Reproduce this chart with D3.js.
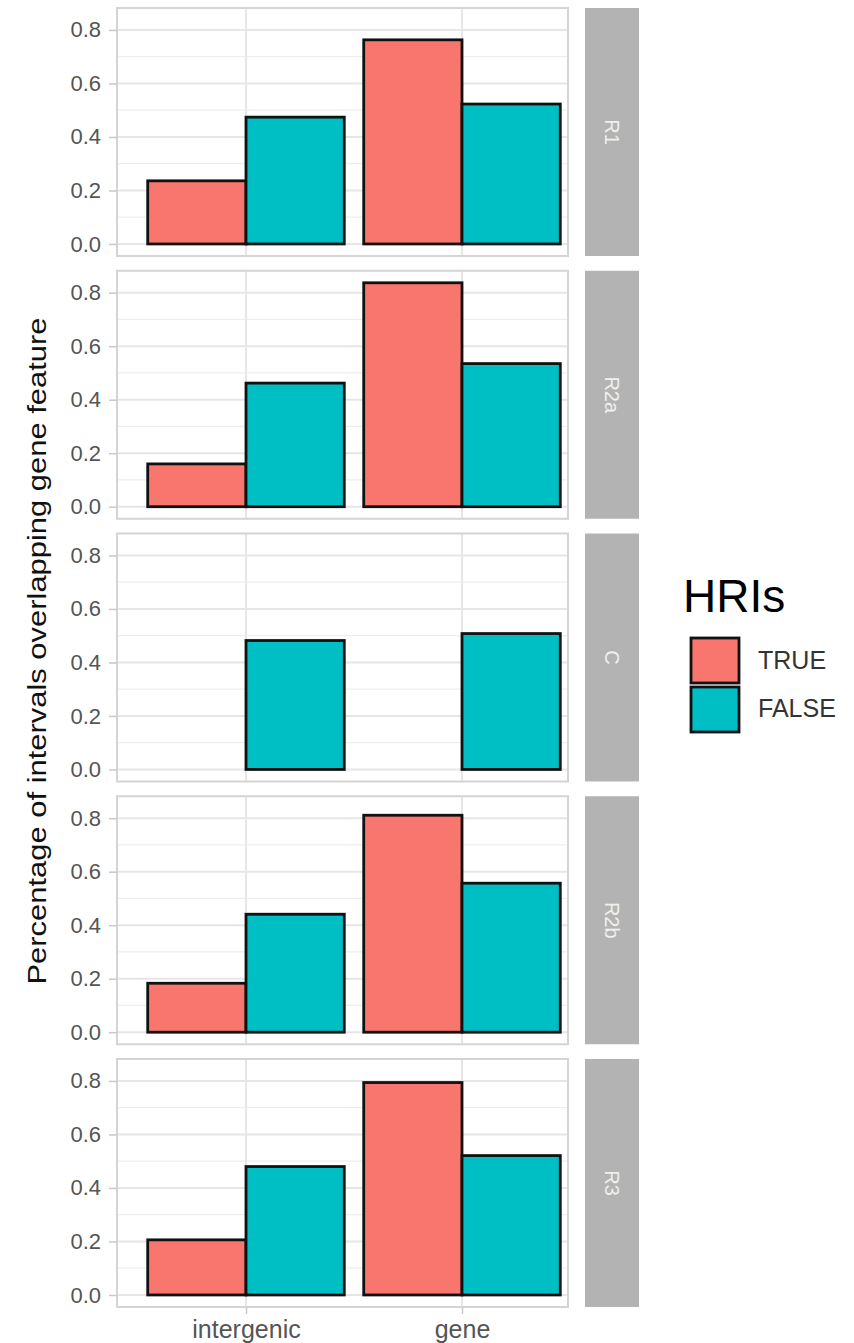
<!DOCTYPE html>
<html lang="en">
<head>
    <meta charset="UTF-8"/>
    <title>HRIs</title>
    <script src="https://d3js.org/d3.v7.min.js" charset="utf-8"></script>
    <style type="text/css">
        body {
            margin: 0;
            background: #fff;
        }
        text {
            font-family: "Liberation Sans", Arial, sans-serif;
        }
        .yaxis text {
            font-size: 22px;
        }
    </style>
</head>
<body>

<div id="my_dataviz"></div>

<script>

// data
var facets = ["R1", "R2a", "C", "R2b", "R3"];
var features = ["intergenic", "gene"];
var groups = ["TRUE", "FALSE"];

var intergenicTrue  = [0.236, 0.160, null, 0.183, 0.206];
var intergenicFalse = [0.474, 0.462, 0.482, 0.441, 0.480];
var geneTrue        = [0.763, 0.837, null, 0.811, 0.794];
var geneFalse       = [0.523, 0.535, 0.508, 0.557, 0.521];

var majorTicks = [0, 0.2, 0.4, 0.6, 0.8];
var minorTicks = [0.1, 0.3, 0.5, 0.7];

// build rows
var rows = [];
facets.forEach(function(f, i) {
  rows.push({facet: f, feature: "intergenic", hri: "TRUE",  value: intergenicTrue[i]});
  rows.push({facet: f, feature: "intergenic", hri: "FALSE", value: intergenicFalse[i]});
  rows.push({facet: f, feature: "gene",       hri: "TRUE",  value: geneTrue[i]});
  rows.push({facet: f, feature: "gene",       hri: "FALSE", value: geneFalse[i]});
});

var width = 854, height = 1343;

var svg = d3.select("#my_dataviz")
  .append("svg")
    .attr("width", width)
    .attr("height", height);

// panel layout
var panelLeft = 117, panelRight = 568,
    panelTop = 8, panelH = 248, panelStep = 262.75,
    stripX = 585, stripW = 54;

var x = d3.scalePoint()
  .domain(features)
  .range([246, 462]);
var step = x(features[1]) - x(features[0]);
var barW = step * 0.455;

var dodge = d3.scaleOrdinal()
  .domain(groups)
  .range([-barW, 0]);

var color = d3.scaleOrdinal()
  .domain(groups)
  .range(["#F8766D", "#00BFC4"]);

facets.forEach(function(f, i) {
  var top = panelTop + i * panelStep;
  var y = d3.scaleLinear()
    .domain([-0.045, 0.882])
    .range([top + panelH, top]);

  var g = svg.append("g");

  // minor grid
  g.selectAll("minor")
    .data(minorTicks)
    .enter()
    .append("line")
      .attr("x1", panelLeft).attr("x2", panelRight)
      .attr("y1", function(d) { return y(d); })
      .attr("y2", function(d) { return y(d); })
      .attr("stroke", "#eeeeee")
      .attr("stroke-width", 1.2);

  // major grid
  g.selectAll("major")
    .data(majorTicks)
    .enter()
    .append("line")
      .attr("x1", panelLeft).attr("x2", panelRight)
      .attr("y1", function(d) { return y(d); })
      .attr("y2", function(d) { return y(d); })
      .attr("stroke", "#e6e6e6")
      .attr("stroke-width", 2);

  g.selectAll("vgrid")
    .data(features)
    .enter()
    .append("line")
      .attr("x1", function(d) { return x(d); })
      .attr("x2", function(d) { return x(d); })
      .attr("y1", top).attr("y2", top + panelH)
      .attr("stroke", "#e6e6e6")
      .attr("stroke-width", 2);

  // bars
  g.selectAll("bar")
    .data(rows.filter(function(d) { return d.facet === f && d.value != null; }))
    .enter()
    .append("rect")
      .attr("x", function(d) { return x(d.feature) + dodge(d.hri); })
      .attr("y", function(d) { return y(d.value); })
      .attr("width", barW)
      .attr("height", function(d) { return y(0) - y(d.value); })
      .attr("fill", function(d) { return color(d.hri); })
      .attr("stroke", "#111")
      .attr("stroke-width", 2.8);

  // panel border
  g.append("rect")
    .attr("x", panelLeft).attr("y", top)
    .attr("width", panelRight - panelLeft).attr("height", panelH)
    .attr("fill", "none")
    .attr("stroke", "#d4d4d4")
    .attr("stroke-width", 2);

  // y axis
  var yAxis = g.append("g")
    .attr("class", "yaxis")
    .attr("transform", "translate(" + panelLeft + ",0)")
    .call(d3.axisLeft(y).tickValues(majorTicks).tickFormat(d3.format(".1f")).tickSize(8).tickPadding(8))
    .attr("font-size", 22)
    .attr("font-family", null);
  yAxis.select(".domain").remove();
  yAxis.selectAll(".tick line").attr("stroke", "#c8c8c8").attr("stroke-width", 1.5);
  yAxis.selectAll("text")
    .attr("fill", "#555")
    .attr("font-size", 22);

  // strip
  g.append("rect")
    .attr("x", stripX).attr("y", top)
    .attr("width", stripW).attr("height", panelH)
    .attr("fill", "#b3b3b3");
  g.append("text")
    .attr("transform", "translate(" + (stripX + stripW / 2) + "," + (top + panelH / 2) + ")rotate(90)")
    .attr("text-anchor", "middle")
    .attr("dy", "0.35em")
    .attr("fill", "#f0f0f0")
    .style("font-size", "20px")
    .text(f);

  // x axis on last panel
  if (i === facets.length - 1) {
    var xAxis = g.append("g")
      .attr("transform", "translate(0," + (top + panelH) + ")")
      .call(d3.axisBottom(x).tickSize(7).tickPadding(6))
      .attr("font-size", 25)
      .attr("font-family", null);
    xAxis.select(".domain").remove();
    xAxis.selectAll(".tick line").attr("stroke", "#c8c8c8").attr("stroke-width", 1.5);
    xAxis.selectAll("text")
      .attr("fill", "#555")
      .style("font-size", "25px");
  }
});

// y title
svg.append("text")
  .attr("transform", "translate(46,651)rotate(-90)")
  .attr("text-anchor", "middle")
  .attr("fill", "#111")
  .style("font-size", "26px")
  .attr("textLength", 667)
  .attr("lengthAdjust", "spacingAndGlyphs")
  .text("Percentage of intervals overlapping gene feature");

// legend
var legend = svg.append("g");
legend.append("text")
  .attr("x", 683).attr("y", 612)
  .attr("fill", "#000")
  .style("font-size", "46px")
  .text("HRIs");

legend.selectAll("key")
  .data(groups)
  .enter()
  .append("rect")
    .attr("x", 691)
    .attr("y", function(d, i) { return 638 + i * 49; })
    .attr("width", 48).attr("height", 45)
    .attr("fill", function(d) { return color(d); })
    .attr("stroke", "#111")
    .attr("stroke-width", 2.8);

legend.selectAll("label")
  .data(groups)
  .enter()
  .append("text")
    .attr("x", 758)
    .attr("y", function(d, i) { return 669 + i * 48; })
    .attr("fill", "#333")
    .style("font-size", "25px")
    .text(function(d) { return d; });

</script>

</body>
</html>
